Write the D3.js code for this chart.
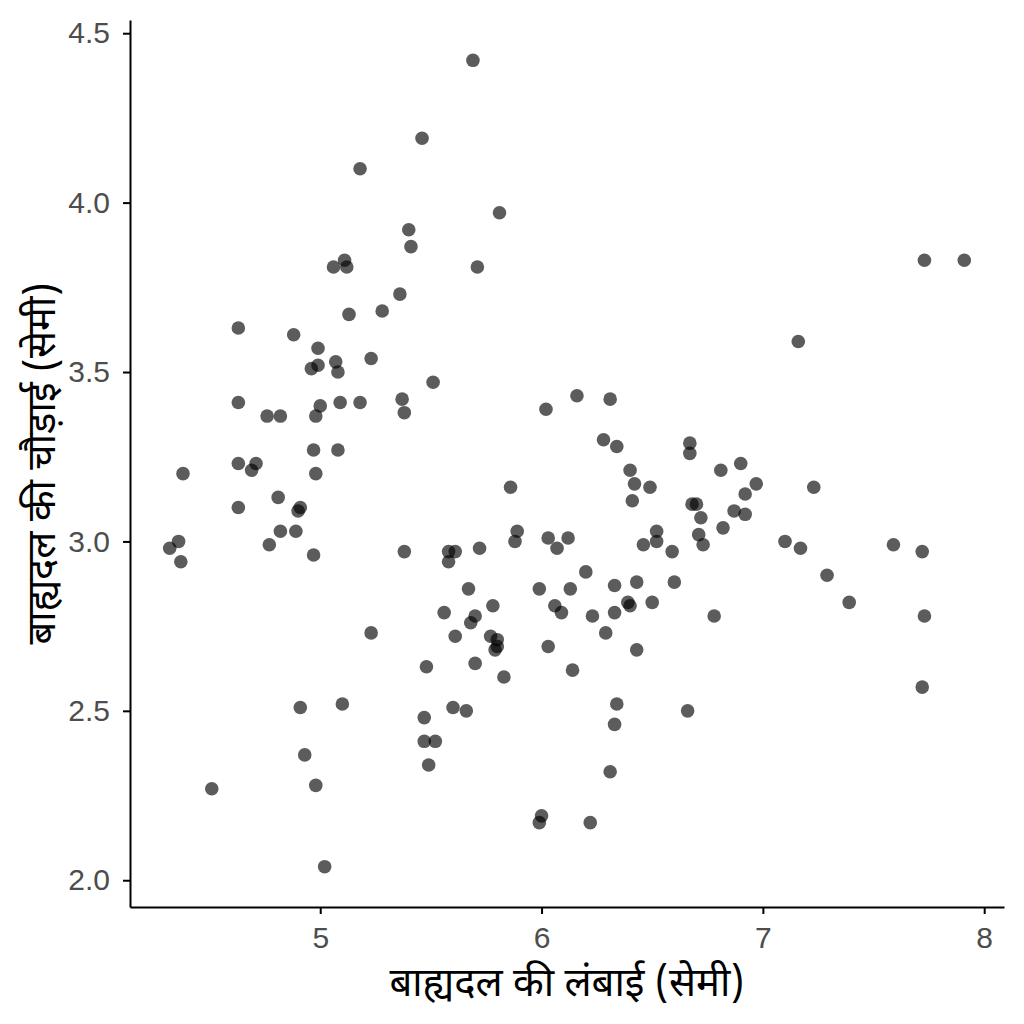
<!DOCTYPE html>
<html>
<head>
<meta charset="utf-8">
<script src="https://cdn.jsdelivr.net/npm/d3@7"></script>
<style>
  html, body { margin: 0; padding: 0; background: #fff; }
  .tick text { font-family: "Liberation Sans", Arial, sans-serif; fill: #4d4d4d; }
  .title { font-family: "Noto Sans Devanagari", "Noto Sans", "Liberation Sans", sans-serif; fill: #000; }
</style>
</head>
<body>
<svg id="chart" width="1024" height="1024"></svg>
<script>
(function() {
'use strict';

// sepal length / width
var sepalLength = [
    5.69, 5.46, 5.18, 5.81, 5.40, 5.41, 5.06, 5.11, 5.12, 5.71,
    5.36, 5.13, 5.28, 4.63, 4.88, 4.99, 4.96, 4.99, 5.07, 5.08,
    5.23, 5.51, 4.63, 4.76, 4.82, 5.00, 4.98, 5.09, 5.18, 5.37,
    5.38, 4.97, 5.08, 4.63, 4.71, 4.69, 4.38, 4.98, 4.81, 4.91,
    4.90, 4.63, 4.82, 4.89, 4.36, 4.32, 4.77, 4.97, 5.38, 4.37,
    5.23, 5.48, 4.91, 5.10, 5.47, 5.47, 5.49, 4.93, 4.98, 4.51,
    5.02, 6.02, 6.16, 6.31, 6.28, 6.34, 6.40, 6.42, 6.49, 6.41,
    5.86, 5.89, 5.88, 6.03, 6.07, 6.12, 6.52, 6.52, 6.46, 5.58,
    5.61, 5.58, 5.72, 5.67, 5.99, 6.13, 6.20, 6.33, 6.43, 6.39,
    6.40, 6.50, 5.78, 5.56, 5.70, 5.68, 6.06, 6.09, 6.23, 6.33,
    5.61, 5.77, 5.80, 5.80, 5.79, 5.70, 5.83, 6.29, 6.03, 6.14,
    6.43, 6.34, 6.33, 6.31, 5.60, 5.66, 5.52, 6.00, 5.99, 6.22,
    6.67, 6.67, 6.81, 6.90, 6.97, 6.92, 7.23, 6.68, 6.70, 6.72,
    6.87, 6.92, 6.82, 6.71, 6.73, 6.59, 7.10, 7.17, 7.29, 6.60,
    6.78, 6.66, 7.73, 7.91, 7.59, 7.72, 7.39, 7.73, 7.72, 7.16
];
var sepalWidth = [
    4.42, 4.19, 4.10, 3.97, 3.92, 3.87, 3.81, 3.83, 3.81, 3.81,
    3.73, 3.67, 3.68, 3.63, 3.61, 3.57, 3.51, 3.52, 3.53, 3.50,
    3.54, 3.47, 3.41, 3.37, 3.37, 3.40, 3.37, 3.41, 3.41, 3.42,
    3.38, 3.27, 3.27, 3.23, 3.23, 3.21, 3.20, 3.20, 3.13, 3.10,
    3.09, 3.10, 3.03, 3.03, 3.00, 2.98, 2.99, 2.96, 2.97, 2.94,
    2.73, 2.63, 2.51, 2.52, 2.48, 2.41, 2.34, 2.37, 2.28, 2.27,
    2.04, 3.39, 3.43, 3.42, 3.30, 3.28, 3.21, 3.17, 3.16, 3.12,
    3.16, 3.03, 3.00, 3.01, 2.98, 3.01, 3.03, 3.00, 2.99, 2.97,
    2.97, 2.94, 2.98, 2.86, 2.86, 2.86, 2.91, 2.87, 2.88, 2.82,
    2.81, 2.82, 2.81, 2.79, 2.78, 2.76, 2.81, 2.79, 2.78, 2.79,
    2.72, 2.72, 2.71, 2.69, 2.68, 2.64, 2.60, 2.73, 2.69, 2.62,
    2.68, 2.52, 2.46, 2.32, 2.51, 2.50, 2.41, 2.19, 2.17, 2.17,
    3.29, 3.26, 3.21, 3.23, 3.17, 3.14, 3.16, 3.11, 3.11, 3.07,
    3.09, 3.08, 3.04, 3.02, 2.99, 2.97, 3.00, 2.98, 2.90, 2.88,
    2.78, 2.50, 3.83, 3.83, 2.99, 2.97, 2.82, 2.78, 2.57, 3.59
];
var xTicks = [5, 6, 7, 8];
var yTicks = [2.0, 2.5, 3.0, 3.5, 4.0, 4.5];
var xTitle = 'बाह्यदल की लंबाई (सेमी)';
var yTitle = 'बाह्यदल की चौड़ाई (सेमी)';

var left = 130, right = 1004, top = 20, bottom = 907;

// ggplot-style 5% padding around the data range
function padded(values) {
    var ext = d3.extent(values);
    var pad = (ext[1] - ext[0]) * 0.05;
    return [ext[0] - pad, ext[1] + pad];
}

var x = d3.scaleLinear().domain(padded(sepalLength)).range([left, right]);
var y = d3.scaleLinear().domain(padded(sepalWidth)).range([bottom, top]);

var svg = d3.select('#chart');

var points = sepalLength.map(function (d, i) {
    return { len: d, wid: sepalWidth[i] };
});

svg.append('g')
    .selectAll('circle')
    .data(points).enter().append('circle')
    .attr('cx', function (d) { return x(d.len); })
    .attr('cy', function (d) { return y(d.wid); })
    .attr('r', 6.8)
    .attr('fill', '#000')
    .attr('fill-opacity', 0.64);

var xAxis = svg.append('g')
    .attr('transform', 'translate(0,' + bottom + ')')
    .call(d3.axisBottom(x).tickValues(xTicks).tickSizeInner(7).tickSizeOuter(0)
        .tickPadding(13).tickFormat(d3.format('d')));

var yAxis = svg.append('g')
    .attr('transform', 'translate(' + left + ',0)')
    .call(d3.axisLeft(y).tickValues(yTicks).tickSizeInner(7).tickSizeOuter(0)
        .tickPadding(13).tickFormat(d3.format('.1f')));

[xAxis, yAxis].forEach(function (g) {
    g.select('.domain').attr('stroke', '#000').attr('stroke-width', 2);
    g.selectAll('.tick line').attr('stroke', '#000').attr('stroke-width', 2);
    g.selectAll('.tick text').style('font-size', '30px');
});

svg.append('text')
    .attr('class', 'title')
    .attr('x', (left + right) / 2)
    .attr('y', 996)
    .attr('text-anchor', 'middle')
    .style('font-size', '40px')
    .text(xTitle);

svg.append('text')
    .attr('class', 'title')
    .attr('transform', 'translate(55,' + ((top + bottom) / 2) + ') rotate(-90)')
    .attr('text-anchor', 'middle')
    .style('font-size', '40px')
    .text(yTitle);

})();
</script>
</body>
</html>
